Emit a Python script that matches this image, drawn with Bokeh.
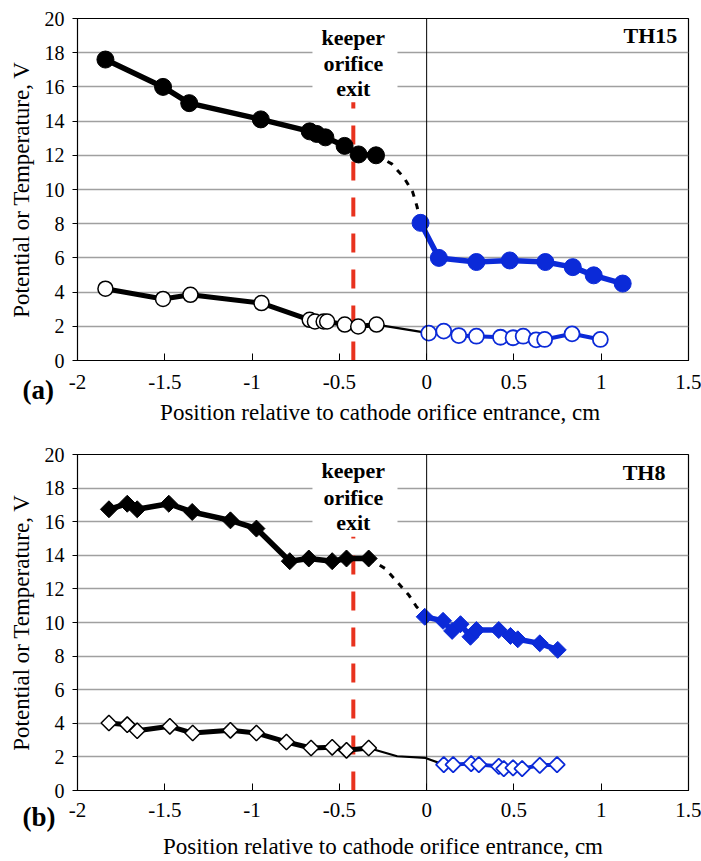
import math
from bokeh.plotting import figure
from bokeh.layouts import column
from bokeh.models import Range1d, FixedTicker, NumeralTickFormatter, Span, Label, Title
from bokeh.embed import file_html
from bokeh.resources import INLINE

# ---------------- data: panel (a) TH15 ----------------
a_pot_x = [-1.84, -1.51, -1.36, -0.95, -0.67, -0.63, -0.58, -0.47, -0.39, -0.29]
a_pot_y = [17.6, 16.0, 15.05, 14.1, 13.4, 13.25, 13.05, 12.55, 12.05, 12.0]
a_model_x = [-0.29, -0.2, -0.13, -0.08, -0.055, -0.035]
a_model_y = [12.0, 11.5, 10.7, 9.85, 9.0, 8.05]
a_pot_in_x = [-0.035, 0.07, 0.285, 0.476, 0.68, 0.837, 0.957, 1.123]
a_pot_in_y = [8.05, 6.0, 5.76, 5.85, 5.76, 5.46, 4.98, 4.5]
a_te_x = [-1.84, -1.51, -1.353, -0.946, -0.67, -0.64, -0.59, -0.57, -0.469, -0.392, -0.287]
a_te_y = [4.2, 3.6, 3.84, 3.36, 2.38, 2.28, 2.28, 2.28, 2.1, 1.99, 2.1]
a_te_link_x = [-0.287, 0.012]
a_te_link_y = [2.1, 1.6]
a_te_in_x = [0.012, 0.098, 0.184, 0.285, 0.423, 0.495, 0.553, 0.627, 0.676, 0.833, 0.995]
a_te_in_y = [1.6, 1.72, 1.46, 1.42, 1.36, 1.33, 1.42, 1.21, 1.23, 1.56, 1.23]

# ---------------- data: panel (b) TH8 ----------------
b_pot_x = [-1.82, -1.715, -1.658, -1.477, -1.343, -1.124, -0.975, -0.784, -0.675, -0.541, -0.459, -0.332]
b_pot_y = [16.74, 17.07, 16.74, 17.07, 16.58, 16.08, 15.59, 13.65, 13.81, 13.65, 13.81, 13.81]
b_model_x = [-0.332, -0.236, -0.169, -0.102, -0.058, -0.007]
b_model_y = [13.81, 13.2, 12.42, 11.63, 10.94, 10.4]
b_pot_in_x = [-0.011, 0.094, 0.146, 0.194, 0.251, 0.285, 0.413, 0.48, 0.522, 0.648, 0.751]
b_pot_in_y = [10.34, 10.1, 9.5, 9.9, 9.15, 9.55, 9.55, 9.2, 9.0, 8.76, 8.37]
b_te_x = [-1.82, -1.715, -1.658, -1.471, -1.34, -1.124, -0.975, -0.803, -0.662, -0.541, -0.459, -0.332]
b_te_y = [4.02, 3.92, 3.56, 3.82, 3.42, 3.58, 3.42, 2.89, 2.53, 2.57, 2.39, 2.53]
b_te_link_x = [-0.332, -0.169, -0.007, 0.098]
b_te_link_y = [2.53, 2.04, 1.94, 1.54]
b_te_in_x = [0.098, 0.152, 0.255, 0.299, 0.413, 0.442, 0.495, 0.547, 0.648, 0.747]
b_te_in_y = [1.54, 1.54, 1.6, 1.54, 1.44, 1.3, 1.35, 1.3, 1.5, 1.54]

keeper_x = -0.42
keeper_top = 15.1
x_ticks = [-2, -1.5, -1, -0.5, 0, 0.5, 1, 1.5]
y_ticks = [0, 2, 4, 6, 8, 10, 12, 14, 16, 18, 20]

BLUE = "#0b2ad8"
RED = "#e8321e"
FONT = "Liberation Serif"


def make_panel(height, border_top, xlabel, tick_standoff, label_standoff,
               tag, tag_standoff, name, name_xy, keeper_ys,
               pot, model, pot_in, te, te_link, te_in, diamond):
    p = figure(width=701, height=height, output_backend="svg", toolbar_location=None,
               x_range=Range1d(-2, 1.5), y_range=Range1d(0, 20),
               min_border_left=77, min_border_right=13, min_border_top=border_top,
               min_border_bottom=70)
    p.outline_line_color = "black"
    p.outline_line_width = 1.2
    p.xgrid.visible = False
    p.ygrid.ticker = FixedTicker(ticks=y_ticks)
    p.ygrid.grid_line_color = "#a0a0a0"
    p.ygrid.grid_line_width = 1.6

    p.xaxis.ticker = FixedTicker(ticks=x_ticks)
    p.xaxis.formatter = NumeralTickFormatter(format="0.[0]")
    p.xaxis.major_tick_in = 7
    p.xaxis.major_tick_out = 0
    p.xaxis.minor_tick_line_color = None
    p.xaxis.major_label_standoff = tick_standoff
    p.xaxis.axis_label = xlabel
    p.xaxis.axis_label_standoff = label_standoff
    p.xaxis.axis_label_text_font_style = "normal"
    p.xaxis.axis_label_text_font_size = "23px"
    p.xaxis.major_label_text_font_size = "21px"

    p.yaxis.ticker = FixedTicker(ticks=y_ticks)
    p.yaxis.major_tick_in = 0
    p.yaxis.major_tick_out = 5
    p.yaxis.minor_tick_line_color = None
    p.yaxis.major_label_standoff = 8
    p.yaxis.axis_label = "Potential or Temperature, V"
    p.yaxis.axis_label_standoff = 8
    p.yaxis.axis_label_text_font_style = "normal"
    p.yaxis.axis_label_text_font_size = "23px"
    p.yaxis.major_label_text_font_size = "20px"
    for ax in (p.xaxis, p.yaxis):
        ax.axis_label_text_font = FONT
        ax.major_label_text_font = FONT
        ax.axis_line_color = "black"
        ax.major_tick_line_color = "black"
        ax.axis_label_text_color = "black"
        ax.major_label_text_color = "black"

    p.add_layout(Span(location=0, dimension="height", line_color="black", line_width=1))

    # white box behind the keeper annotation
    p.quad(left=[-0.654], right=[-0.167], bottom=[keeper_top], top=[19.93],
           fill_color="white", line_color=None)
    p.segment(x0=[keeper_x], y0=[0], x1=[keeper_x], y1=[keeper_top],
              line_color=RED, line_width=4, line_dash="19 17")

    ang = math.pi / 4 if diamond else 0
    mk = "square" if diamond else "circle"
    big = 12 if diamond else 17
    small = 11 if diamond else 15

    # electron temperature (open markers)
    p.line(te[0], te[1], line_color="black", line_width=5)
    p.line(te_link[0], te_link[1], line_color="black", line_width=2.2)
    p.line(te_in[0], te_in[1], line_color=BLUE, line_width=4)
    p.scatter(te[0], te[1], marker=mk, angle=ang, size=small, fill_color="white",
              line_color="black", line_width=1.5)
    p.scatter(te_in[0], te_in[1], marker=mk, angle=ang, size=small, fill_color="white",
              line_color=BLUE, line_width=1.8)

    # potential (filled markers)
    p.line(model[0], model[1], line_color="black", line_width=3, line_dash="6 7")
    p.line(pot[0], pot[1], line_color="black", line_width=5.5)
    p.line(pot_in[0], pot_in[1], line_color=BLUE, line_width=5.5)
    p.scatter(pot[0], pot[1], marker=mk, angle=ang, size=big, fill_color="black",
              line_color="black")
    p.scatter(pot_in[0], pot_in[1], marker=mk, angle=ang, size=big, fill_color=BLUE,
              line_color=BLUE)

    for word, yy in zip(["keeper", "orifice", "exit"], keeper_ys):
        p.add_layout(Label(x=keeper_x, y=yy, text=word, text_align="center",
                           text_baseline="middle", text_font=FONT, text_font_size="22px",
                           text_font_style="bold", text_color="black"))
    p.add_layout(Label(x=name_xy[0], y=name_xy[1], text=name, text_align="right",
                       text_baseline="middle", text_font=FONT, text_font_size="22px",
                       text_font_style="bold", text_color="black"))
    # panel tag "(a)"/"(b)" in the lower-left corner, outside the frame
    p.add_layout(Title(text=tag, align="left", offset=-55, standoff=tag_standoff,
                       vertical_align="top", text_font=FONT, text_font_size="27px",
                       text_font_style="bold", text_color="black"), "below")
    return p


pa = make_panel(430, 18, "Position relative to cathode orifice entrance,  cm", 14, 8,
                "(a)", -106, "TH15", (1.436, 19.03), [18.91, 17.39, 15.93],
                (a_pot_x, a_pot_y), (a_model_x, a_model_y), (a_pot_in_x, a_pot_in_y),
                (a_te_x, a_te_y), (a_te_link_x, a_te_link_y), (a_te_in_x, a_te_in_y), False)
pb = make_panel(431, 24, "Position relative to cathode orifice entrance, cm", 12, 14,
                "(b)", -120, "TH8", (1.368, 18.95), [19.05, 17.47, 15.98],
                (b_pot_x, b_pot_y), (b_model_x, b_model_y), (b_pot_in_x, b_pot_in_y),
                (b_te_x, b_te_y), (b_te_link_x, b_te_link_y), (b_te_in_x, b_te_in_y), True)

layout = column(pa, pb, spacing=0)
open("out.html", "w").write(file_html(layout, INLINE))
